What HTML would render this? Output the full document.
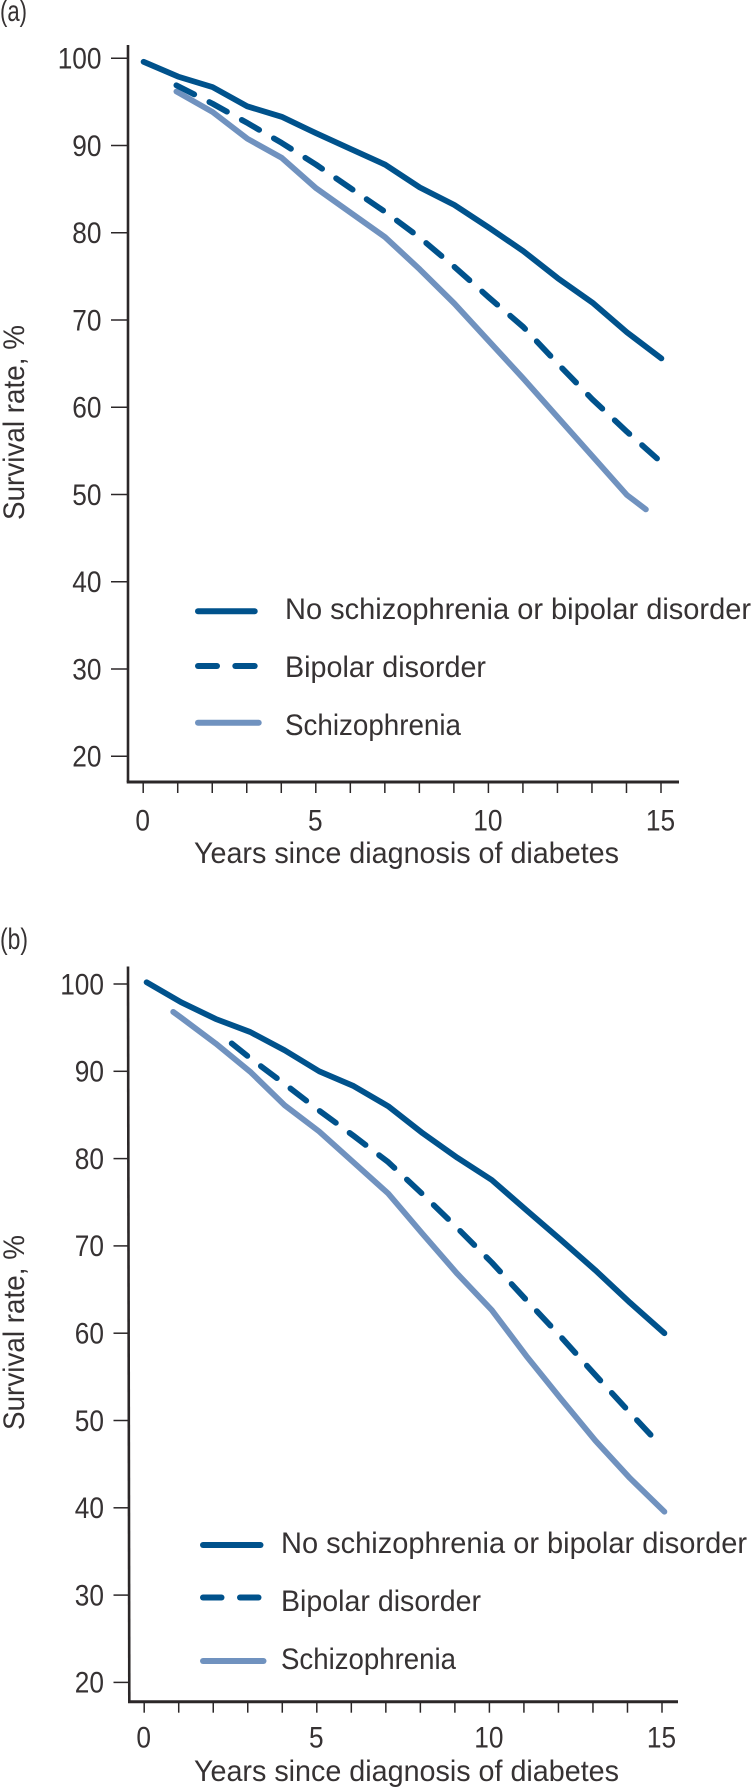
<!DOCTYPE html>
<html lang="en">
<head>
<meta charset="utf-8">
<title>Survival rate since diagnosis of diabetes</title>
<style>
html,body{margin:0;padding:0;background:#fff;}
svg{display:block;}
text{font-family:"Liberation Sans",sans-serif;font-size:29.5px;fill:#363233;}
</style>
</head>
<body>
<svg id="chart" width="751" height="1788" viewBox="0 0 751 1788" xmlns="http://www.w3.org/2000/svg">
  <rect width="751" height="1788" fill="#ffffff"/>

  <text x="0" y="21" textLength="27" lengthAdjust="spacingAndGlyphs">(a)</text>
  <text transform="translate(24,520) rotate(-90)" textLength="195" lengthAdjust="spacingAndGlyphs">Survival rate, %</text>
  <text x="194" y="863" textLength="425" lengthAdjust="spacingAndGlyphs">Years since diagnosis of diabetes</text>
  <g id="panelA"></g>
  <g>
    <line x1="198" y1="611.3" x2="254.7" y2="611.3" stroke="#00528c" stroke-width="6" stroke-linecap="round"/>
    <text x="285" y="619" textLength="466" lengthAdjust="spacingAndGlyphs">No schizophrenia or bipolar disorder</text>
    <line x1="198" y1="666" x2="217" y2="666" stroke="#00528c" stroke-width="6" stroke-linecap="round"/>
    <line x1="235.3" y1="666" x2="254.7" y2="666" stroke="#00528c" stroke-width="6" stroke-linecap="round"/>
    <text x="285" y="677" textLength="201" lengthAdjust="spacingAndGlyphs">Bipolar disorder</text>
    <line x1="198" y1="722.7" x2="258.7" y2="722.7" stroke="#7092bf" stroke-width="6" stroke-linecap="round"/>
    <text x="285" y="735" textLength="176" lengthAdjust="spacingAndGlyphs">Schizophrenia</text>
  </g>

  <text x="0" y="949" textLength="28" lengthAdjust="spacingAndGlyphs">(b)</text>
  <text transform="translate(24,1430) rotate(-90)" textLength="195" lengthAdjust="spacingAndGlyphs">Survival rate, %</text>
  <text x="194" y="1781" textLength="425" lengthAdjust="spacingAndGlyphs">Years since diagnosis of diabetes</text>
  <g id="panelB"></g>
  <g>
    <line x1="203" y1="1545" x2="260.5" y2="1545" stroke="#00528c" stroke-width="6" stroke-linecap="round"/>
    <text x="281" y="1553" textLength="466" lengthAdjust="spacingAndGlyphs">No schizophrenia or bipolar disorder</text>
    <line x1="203" y1="1597.5" x2="221.5" y2="1597.5" stroke="#00528c" stroke-width="6" stroke-linecap="round"/>
    <line x1="240" y1="1597.5" x2="258.5" y2="1597.5" stroke="#00528c" stroke-width="6" stroke-linecap="round"/>
    <text x="281" y="1611" textLength="200" lengthAdjust="spacingAndGlyphs">Bipolar disorder</text>
    <line x1="203" y1="1661" x2="263.5" y2="1661" stroke="#7092bf" stroke-width="6" stroke-linecap="round"/>
    <text x="281" y="1669" textLength="175" lengthAdjust="spacingAndGlyphs">Schizophrenia</text>
  </g>
</svg>

<script>
var yTickValues = [100, 90, 80, 70, 60, 50, 40, 30, 20];
var xTickValues = [0, 1, 2, 3, 4, 5, 6, 7, 8, 9, 10, 11, 12, 13, 14, 15];
var xTickLabels = [0, 5, 10, 15];

var aNoYears = [0, 1, 2, 3, 4, 5, 6, 7, 8, 9, 10, 11, 12, 13, 14, 15];
var aNoValues = [99.6, 97.9, 96.7, 94.5, 93.3, 91.4, 89.6, 87.8, 85.2, 83.2, 80.6, 77.9, 74.8, 72.0, 68.6, 65.6];
var aBipolarYears = [0.95, 2, 3, 4, 5, 6, 7, 8, 9, 10, 11, 12, 13, 14, 14.94];
var aBipolarValues = [96.9, 94.8, 92.6, 90.3, 87.8, 85.1, 82.4, 79.45, 76.1, 72.6, 69.2, 65.0, 60.9, 57.2, 53.9];
var aSchizoYears = [0.95, 2, 3, 4, 5, 6, 7, 8, 9, 10, 11, 12, 13, 14, 14.55];
var aSchizoValues = [96.2, 93.85, 90.8, 88.6, 85.1, 82.3, 79.5, 75.8, 71.9, 67.6, 63.3, 58.85, 54.4, 49.95, 48.3];

var bNoYears = [0, 1, 2, 3, 4, 5, 6, 7, 8, 9, 10, 11, 12, 13, 14, 15];
var bNoValues = [100.2, 97.9, 96.0, 94.5, 92.4, 90.0, 88.3, 86.0, 82.9, 80.1, 77.55, 74.1, 70.7, 67.2, 63.5, 60.0];
var bBipolarYears = [2.465, 3, 4, 5, 6, 7, 8, 9, 10, 11, 12, 13, 14, 14.7];
var bBipolarValues = [93.2, 91.5, 88.55, 85.5, 82.6, 79.6, 75.9, 72.05, 68.1, 63.8, 59.6, 55.2, 50.9, 47.95];
var bSchizoYears = [0.77, 1, 2, 3, 4, 5, 6, 7, 8, 9, 10, 11, 12, 13, 14, 15];
var bSchizoValues = [96.8, 96.15, 93.2, 89.95, 86.1, 83.1, 79.55, 76.0, 71.35, 66.8, 62.65, 57.4, 52.5, 47.7, 43.4, 39.55];

var NS = 'http://www.w3.org/2000/svg';

function make(parent, tag, attrs, text) {
  var el = document.createElementNS(NS, tag);
  for (var k in attrs) { el.setAttribute(k, attrs[k]); }
  if (text !== undefined) { el.textContent = text; }
  parent.appendChild(el);
  return el;
}

function drawSeries(group, name, years, values, xFn, yFn, color, dash) {
  var pts = years.map(function (yr, i) {
    return xFn(yr).toFixed(1) + ',' + yFn(values[i]).toFixed(1);
  }).join(' ');
  var attrs = {
    points: pts, fill: 'none', stroke: color, 'stroke-width': 5.8,
    'stroke-linecap': 'round', 'stroke-linejoin': 'round'
  };
  if (dash) { attrs['stroke-dasharray'] = dash; }
  var line = make(group, 'polyline', attrs);
  
  
}

function drawAxes(group, p) {
  var axisColor = '#2b2728';
  var yAxis = make(group, 'line', { x1: p.axisXTop, y1: p.axisTop, x2: p.axisXBottom, y2: p.axisY, stroke: axisColor, 'stroke-width': 2.6 });
  
  
  var xAxis = make(group, 'line', { x1: p.axisXBottom - 1.3, y1: p.axisY, x2: p.axisRight, y2: p.axisY, stroke: axisColor, 'stroke-width': 3 });
  
  

  yTickValues.forEach(function (v) {
    var y = p.y(v);
    var tick = make(group, 'line', { x1: p.tickLeft, y1: y, x2: p.axisXTop, y2: y, stroke: axisColor, 'stroke-width': 1.5 });
    
    
    var text = String(v);
    var label = make(group, 'text', {
      x: p.labelRight, y: y + 10.3, 'text-anchor': 'end',
      textLength: text.length * 14.6, lengthAdjust: 'spacingAndGlyphs'
    }, text);
    
    
  });

  xTickValues.forEach(function (v) {
    var x = p.xTick(v);
    var tick = make(group, 'line', { x1: x, y1: p.axisY, x2: x, y2: p.axisY + 11, stroke: axisColor, 'stroke-width': 1.5 });
    
    
  });

  xTickLabels.forEach(function (v) {
    var text = String(v);
    var label = make(group, 'text', {
      x: p.xTick(v) - 0.5, y: p.axisY + p.xLabelOffset, 'text-anchor': 'middle',
      textLength: text.length * 14.6, lengthAdjust: 'spacingAndGlyphs'
    }, text);
    
    
  });
}

var panelAScales = {
  y: function (v) { return 58.3 + (100 - v) * 8.725; },
  xTick: function (t) { return 143.2 + t * 34.52; },
  xLine: function (t) { return 143.6 + t * 34.52; },
  axisXTop: 128, axisXBottom: 128, axisTop: 45, axisY: 782, axisRight: 679,
  tickLeft: 111, labelRight: 101.5, xLabelOffset: 48.5
};

var panelBScales = {
  y: function (v) { return 984 + (100 - v) * 8.73; },
  xTick: function (t) { return 144.2 + t * 34.52; },
  xLine: function (t) { return 146.6 + t * 34.52; },
  axisXTop: 128, axisXBottom: 129.3, axisTop: 966.5, axisY: 1701.7, axisRight: 678,
  tickLeft: 113.5, labelRight: 104, xLabelOffset: 46
};

var darkBlue = '#00528c';
var lightBlue = '#7092bf';
var dashPattern = '20 17';

var groupA = document.getElementById('panelA');
drawAxes(groupA, panelAScales);
drawSeries(groupA, 'series-schizophrenia', aSchizoYears, aSchizoValues, panelAScales.xLine, panelAScales.y, lightBlue);
drawSeries(groupA, 'series-no-disorder', aNoYears, aNoValues, panelAScales.xLine, panelAScales.y, darkBlue);
drawSeries(groupA, 'series-bipolar', aBipolarYears, aBipolarValues, panelAScales.xLine, panelAScales.y, darkBlue, dashPattern);

var groupB = document.getElementById('panelB');
drawAxes(groupB, panelBScales);
drawSeries(groupB, 'series-schizophrenia', bSchizoYears, bSchizoValues, panelBScales.xLine, panelBScales.y, lightBlue);
drawSeries(groupB, 'series-no-disorder', bNoYears, bNoValues, panelBScales.xLine, panelBScales.y, darkBlue);
drawSeries(groupB, 'series-bipolar', bBipolarYears, bBipolarValues, panelBScales.xLine, panelBScales.y, darkBlue, dashPattern);
</script>
</body>
</html>
